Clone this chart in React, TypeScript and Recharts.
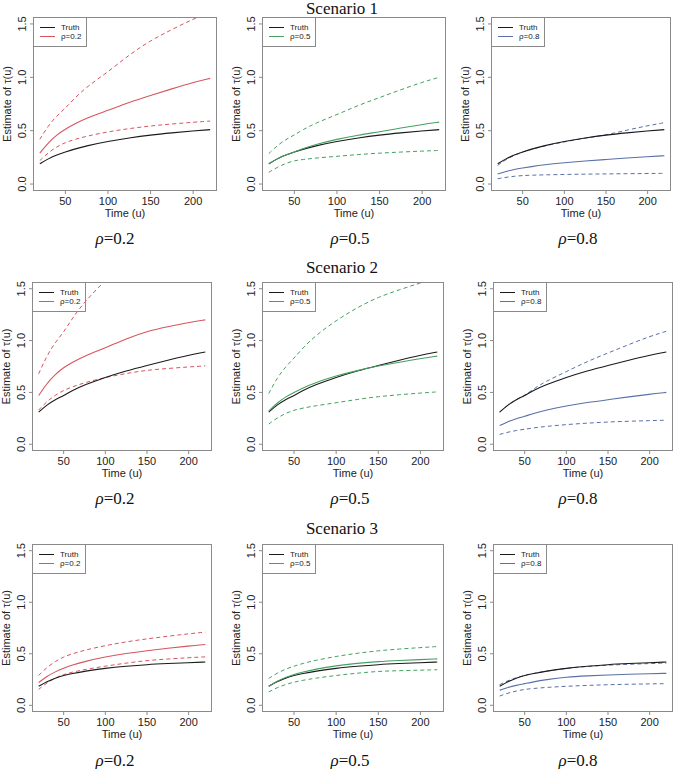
import { Line, LineChart, XAxis, YAxis } from 'recharts'

// time grid shared by every panel
const TIME = [20, 30, 40, 50, 60, 75, 100, 125, 150, 175, 200, 220]

const X_TICKS = [50, 100, 150, 200]
const Y_TICKS = [0, 0.5, 1, 1.5]
const SCENARIOS = ['Scenario 1', 'Scenario 2', 'Scenario 3']
const RHOS = ['0.2', '0.5', '0.8']

// true tau(u) per scenario
const truthS1 = [0.19, 0.238, 0.274, 0.3, 0.326, 0.359, 0.4, 0.433, 0.46, 0.48, 0.498, 0.51]
const truthS2 = [0.31, 0.38, 0.432, 0.47, 0.516, 0.573, 0.645, 0.708, 0.76, 0.811, 0.859, 0.89]
const truthS3 = [0.185, 0.231, 0.265, 0.29, 0.308, 0.331, 0.36, 0.379, 0.395, 0.405, 0.414, 0.42]

// scenario 1: estimate, upper and lower band for rho = 0.2 / 0.5 / 0.8
const s1r2Est = [0.29, 0.389, 0.461, 0.515, 0.56, 0.618, 0.69, 0.767, 0.83, 0.892, 0.952, 0.99]
const s1r2Up = [0.42, 0.548, 0.64, 0.71, 0.798, 0.911, 1.05, 1.212, 1.345, 1.448, 1.546, 1.61]
const s1r2Lo = [0.22, 0.295, 0.349, 0.39, 0.416, 0.449, 0.49, 0.52, 0.545, 0.563, 0.579, 0.59]
const s1r5Est = [0.19, 0.238, 0.274, 0.3, 0.331, 0.371, 0.42, 0.459, 0.49, 0.525, 0.558, 0.58]
const s1r5Up = [0.285, 0.362, 0.418, 0.46, 0.509, 0.572, 0.65, 0.738, 0.81, 0.884, 0.954, 1.0]
const s1r5Lo = [0.11, 0.158, 0.194, 0.22, 0.23, 0.244, 0.26, 0.277, 0.29, 0.3, 0.309, 0.315]
const s1r8Est = [0.095, 0.119, 0.137, 0.15, 0.163, 0.18, 0.2, 0.217, 0.23, 0.244, 0.257, 0.265]
const s1r8Up = [0.175, 0.23, 0.27, 0.3, 0.325, 0.356, 0.395, 0.431, 0.46, 0.505, 0.547, 0.575]
const s1r8Lo = [0.05, 0.063, 0.073, 0.08, 0.083, 0.086, 0.09, 0.093, 0.095, 0.097, 0.099, 0.1]

// scenario 2
const s2r2Est = [0.47, 0.589, 0.675, 0.74, 0.789, 0.852, 0.93, 1.018, 1.09, 1.133, 1.174, 1.2]
const s2r2Up = [0.68, 0.856, 0.984, 1.08, 1.21, 1.375, 1.58, 1.78, 1.95, 2.09, 2.22, 2.3]
const s2r2Lo = [0.33, 0.414, 0.474, 0.52, 0.553, 0.594, 0.645, 0.683, 0.715, 0.731, 0.746, 0.756]
const s2r5Est = [0.32, 0.399, 0.457, 0.5, 0.542, 0.594, 0.66, 0.712, 0.755, 0.792, 0.827, 0.85]
const s2r5Up = [0.49, 0.64, 0.748, 0.83, 0.925, 1.045, 1.195, 1.319, 1.42, 1.49, 1.557, 1.6]
const s2r5Lo = [0.195, 0.254, 0.298, 0.33, 0.348, 0.371, 0.4, 0.433, 0.46, 0.478, 0.494, 0.505]
const s2r8Est = [0.18, 0.22, 0.248, 0.27, 0.296, 0.329, 0.37, 0.403, 0.43, 0.457, 0.483, 0.5]
const s2r8Up = [0.31, 0.38, 0.432, 0.47, 0.53, 0.606, 0.7, 0.799, 0.88, 0.962, 1.04, 1.09]
const s2r8Lo = [0.095, 0.117, 0.133, 0.145, 0.157, 0.172, 0.19, 0.204, 0.215, 0.222, 0.228, 0.232]

// scenario 3
const s3r2Est = [0.22, 0.282, 0.326, 0.36, 0.389, 0.425, 0.47, 0.503, 0.53, 0.553, 0.576, 0.59]
const s3r2Up = [0.29, 0.369, 0.427, 0.47, 0.499, 0.535, 0.58, 0.616, 0.645, 0.67, 0.694, 0.71]
const s3r2Lo = [0.155, 0.219, 0.265, 0.3, 0.321, 0.347, 0.38, 0.41, 0.435, 0.449, 0.462, 0.47]
const s3r5Est = [0.185, 0.236, 0.272, 0.3, 0.322, 0.35, 0.385, 0.407, 0.425, 0.435, 0.444, 0.45]
const s3r5Up = [0.26, 0.313, 0.351, 0.38, 0.405, 0.436, 0.475, 0.505, 0.53, 0.546, 0.56, 0.57]
const s3r5Lo = [0.13, 0.172, 0.202, 0.225, 0.242, 0.263, 0.29, 0.312, 0.33, 0.336, 0.341, 0.345]
const s3r8Est = [0.145, 0.174, 0.194, 0.21, 0.227, 0.248, 0.275, 0.286, 0.295, 0.301, 0.306, 0.31]
const s3r8Up = [0.2, 0.24, 0.268, 0.29, 0.308, 0.331, 0.36, 0.377, 0.39, 0.398, 0.405, 0.41]
const s3r8Lo = [0.09, 0.119, 0.139, 0.155, 0.163, 0.173, 0.185, 0.193, 0.2, 0.204, 0.208, 0.21]

const COLORS = ['#d8545f', '#45a060', '#5a70a6']
const TRUTH_COLOR = '#1a1a1a'
const FRAME = '#8a8a8a'
const SANS = '"Liberation Sans", Arial, Helvetica, sans-serif'
const SERIF = '"Liberation Serif", "Times New Roman", serif'

const PANELS = [
  [truthS1, [[s1r2Est, s1r2Up, s1r2Lo], [s1r5Est, s1r5Up, s1r5Lo], [s1r8Est, s1r8Up, s1r8Lo]]],
  [truthS2, [[s2r2Est, s2r2Up, s2r2Lo], [s2r5Est, s2r5Up, s2r5Lo], [s2r8Est, s2r8Up, s2r8Lo]]],
  [truthS3, [[s3r2Est, s3r2Up, s3r2Lo], [s3r5Est, s3r5Up, s3r5Lo], [s3r8Est, s3r8Up, s3r8Lo]]],
] as const

// plot-box geometry (page pixels)
const ROWS = [
  { t: 17, b: 191, cols: [[33, 217], [262, 446], [491, 671]], title: 8, sub: 238 },
  { t: 282, b: 451, cols: [[32, 212], [262, 444], [493, 673]], title: 267, sub: 498 },
  { t: 544, b: 712, cols: [[32, 212], [262, 444], [493, 673]], title: 528, sub: 760 },
]
const SUB_X = [115, 350, 578]

const YW = 38
const XH = 30
const MT = 4
const MR = 4

function YTick({ x, y, payload }: any) {
  return (
    <text
      transform={`translate(${x},${y}) rotate(-90)`}
      textAnchor="middle"
      fontSize={11}
      fill="#222"
      fontFamily={SANS}
    >
      {Number(payload.value).toFixed(1)}
    </text>
  )
}

function Panel({ row, col }: { row: number; col: number }) {
  const geo = ROWS[row]
  const [l, r] = geo.cols[col]
  const w = r - l
  const h = geo.b - geo.t
  const truth = PANELS[row][0]
  const [est, up, lo] = PANELS[row][1][col]
  const color = COLORS[col]
  const data = TIME.map((t, i) => ({ t, truth: truth[i], est: est[i], upper: up[i], lower: lo[i] }))

  return (
    <div style={{ position: 'absolute', left: l - YW, top: geo.t - MT }}>
      <LineChart
        width={YW + w + MR}
        height={MT + h + XH}
        data={data}
        margin={{ top: MT, right: MR, left: 0, bottom: 0 }}
      >
        <XAxis
          type="number"
          dataKey="t"
          domain={[12, 228]}
          ticks={X_TICKS}
          allowDataOverflow
          height={XH}
          axisLine={false}
          tickSize={3}
          tickMargin={3}
          stroke={FRAME}
          tick={{ fontSize: 11, fill: '#222', fontFamily: SANS }}
          label={() => (
            <text x={YW + w / 2} y={MT + h + 26} textAnchor="middle" fontSize={11} fill="#222" fontFamily={SANS}>
              Time (u)
            </text>
          )}
        />
        <YAxis
          type="number"
          domain={[-0.065, 1.565]}
          ticks={Y_TICKS}
          allowDataOverflow
          width={YW}
          axisLine={false}
          tickSize={3}
          tickMargin={4}
          stroke={FRAME}
          tick={<YTick />}
          label={() => (
            <text
              transform={`translate(${YW - 22},${MT + h / 2}) rotate(-90)`}
              textAnchor="middle"
              fontSize={11}
              fill="#222"
              fontFamily={SANS}
            >
              Estimate of τ(u)
            </text>
          )}
        />
        <Line dataKey="upper" type="basis" stroke={color} strokeWidth={1} strokeDasharray="4 3" dot={false} isAnimationActive={false} />
        <Line dataKey="lower" type="basis" stroke={color} strokeWidth={1} strokeDasharray="4 3" dot={false} isAnimationActive={false} />
        <Line dataKey="truth" type="basis" stroke={TRUTH_COLOR} strokeWidth={1.1} dot={false} isAnimationActive={false} />
        <Line dataKey="est" type="basis" stroke={color} strokeWidth={1.1} dot={false} isAnimationActive={false} />
      </LineChart>
      {/* plot frame */}
      <div
        style={{
          position: 'absolute', left: YW, top: MT, width: w, height: h,
          border: `1px solid ${FRAME}`, boxSizing: 'border-box', pointerEvents: 'none',
        }}
      />
      {/* legend box */}
      <div
        style={{
          position: 'absolute', left: YW, top: MT, width: 54, height: 30,
          border: `1px solid ${FRAME}`, boxSizing: 'border-box', fontFamily: SANS, fontSize: 8, color: '#222',
        }}
      >
        {[['Truth', TRUTH_COLOR], [`ρ=${RHOS[col]}`, color]].map(([name, c], i) => (
          <div key={name} style={{ position: 'absolute', left: 0, top: 5 + i * 9, height: 9, width: 54 }}>
            <div style={{ position: 'absolute', left: 6, top: 4, width: 15, borderTop: `1.2px solid ${c}` }} />
            <div style={{ position: 'absolute', left: 27, top: 0, lineHeight: '9px' }}>{name}</div>
          </div>
        ))}
      </div>
    </div>
  )
}

function Caption({ x, y, children, size }: { x: number; y: number; children: any; size: number }) {
  return (
    <div
      style={{
        position: 'absolute', left: x, top: y, transform: 'translate(-50%, -50%)',
        fontFamily: SERIF, fontSize: size, lineHeight: 1, whiteSpace: 'nowrap', color: '#111',
      }}
    >
      {children}
    </div>
  )
}

export default function App() {
  return (
    <div style={{ position: 'absolute', left: 0, top: 0, width: 676, height: 769, background: '#fff', overflow: 'hidden' }}>
      {ROWS.map((geo, row) => (
        <div key={row}>
          <Caption x={342} y={geo.title} size={17}>{SCENARIOS[row]}</Caption>
          {RHOS.map((rho, col) => (
            <div key={col}>
              <Panel row={row} col={col} />
              <Caption x={SUB_X[col]} y={geo.sub} size={17}>
                <i>ρ</i>=0.{rho.slice(2)}
              </Caption>
            </div>
          ))}
        </div>
      ))}
    </div>
  )
}
